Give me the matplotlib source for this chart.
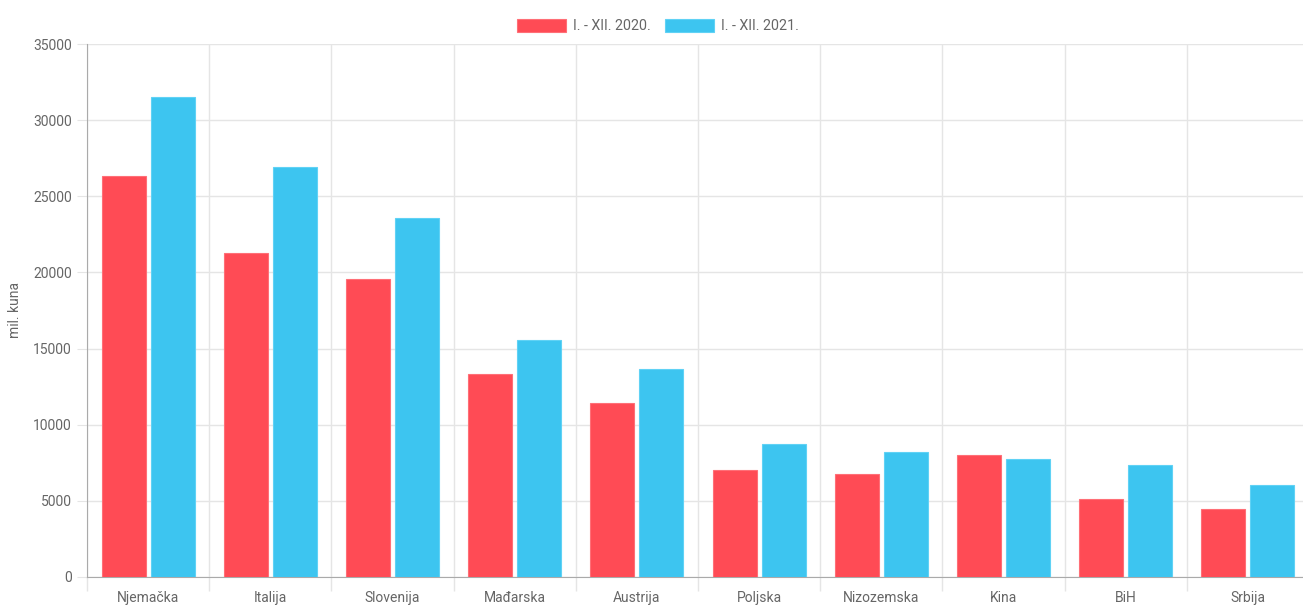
import numpy as np
import matplotlib
matplotlib.use("Agg")
import matplotlib.pyplot as plt

plt.rcParams['font.family'] = ['Roboto', 'DejaVu Sans']

countries = ["Njemačka", "Italija", "Slovenija", "Mađarska", "Austrija",
             "Poljska", "Nizozemska", "Kina", "BiH", "Srbija"]
val_2020 = [26350, 21290, 19580, 13340, 11430, 7030, 6770, 8020, 5120, 4470]
val_2021 = [31540, 26940, 23590, 15570, 13670, 8740, 8210, 7750, 7360, 6045]
series_labels = ["I. - XII. 2020.", "I. - XII. 2021."]

red = '#FF4B55'
blue = '#3DC5F0'
txt = '#666666'
grid_c = '#E5E5E5'

fig = plt.figure(figsize=(13.03, 6.06), dpi=100)
ax = fig.add_axes([87/1303, 29/606, 1222/1303, 533/606])

x = np.arange(len(countries))
w = 0.36
b1 = ax.bar(x - 0.2, val_2020, w, color=red, edgecolor='#FF6F77', linewidth=0.8,
            label=series_labels[0], zorder=3)
b2 = ax.bar(x + 0.2, val_2021, w, color=blue, edgecolor='#60D2F5', linewidth=0.8,
            label=series_labels[1], zorder=3)

ax.set_xlim(-0.5, len(countries) - 0.5)
ax.set_ylim(0, 35000)
ax.set_yticks(np.arange(0, 35001, 5000))
ax.set_xticks(x)
ax.set_xticklabels(countries)
ax.tick_params(axis='x', length=0, pad=10, labelsize=10, labelcolor=txt)
ax.tick_params(axis='y', length=7, color=grid_c, pad=4, labelsize=10, labelcolor=txt)

# vertical grid at category boundaries, with ticks below axis
ax.set_xticks(np.arange(-0.5, len(countries)), minor=True)
ax.tick_params(axis='x', which='minor', length=10, color=grid_c, width=1)
ax.grid(axis='x', which='minor', color=grid_c, linewidth=1, zorder=0)
ax.grid(axis='y', which='major', color=grid_c, linewidth=1, zorder=0)

for s in ['top', 'right']:
    ax.spines[s].set_visible(False)
ax.spines['left'].set_color('#AAAAAA')
ax.spines['bottom'].set_color('#AAAAAA')

ax.set_ylabel("mil. kuna", fontsize=10, color=txt, labelpad=8)

fig.legend(handles=[b1, b2], labels=series_labels, loc='upper center',
           bbox_to_anchor=(0.505, 0.99), ncol=2, frameon=False, fontsize=10.3,
           labelcolor=txt, handlelength=3.4, handleheight=1.0, handletextpad=0.5,
           columnspacing=1.0, borderaxespad=0.5)

plt.savefig("out.png", dpi=100)
plt.close()
